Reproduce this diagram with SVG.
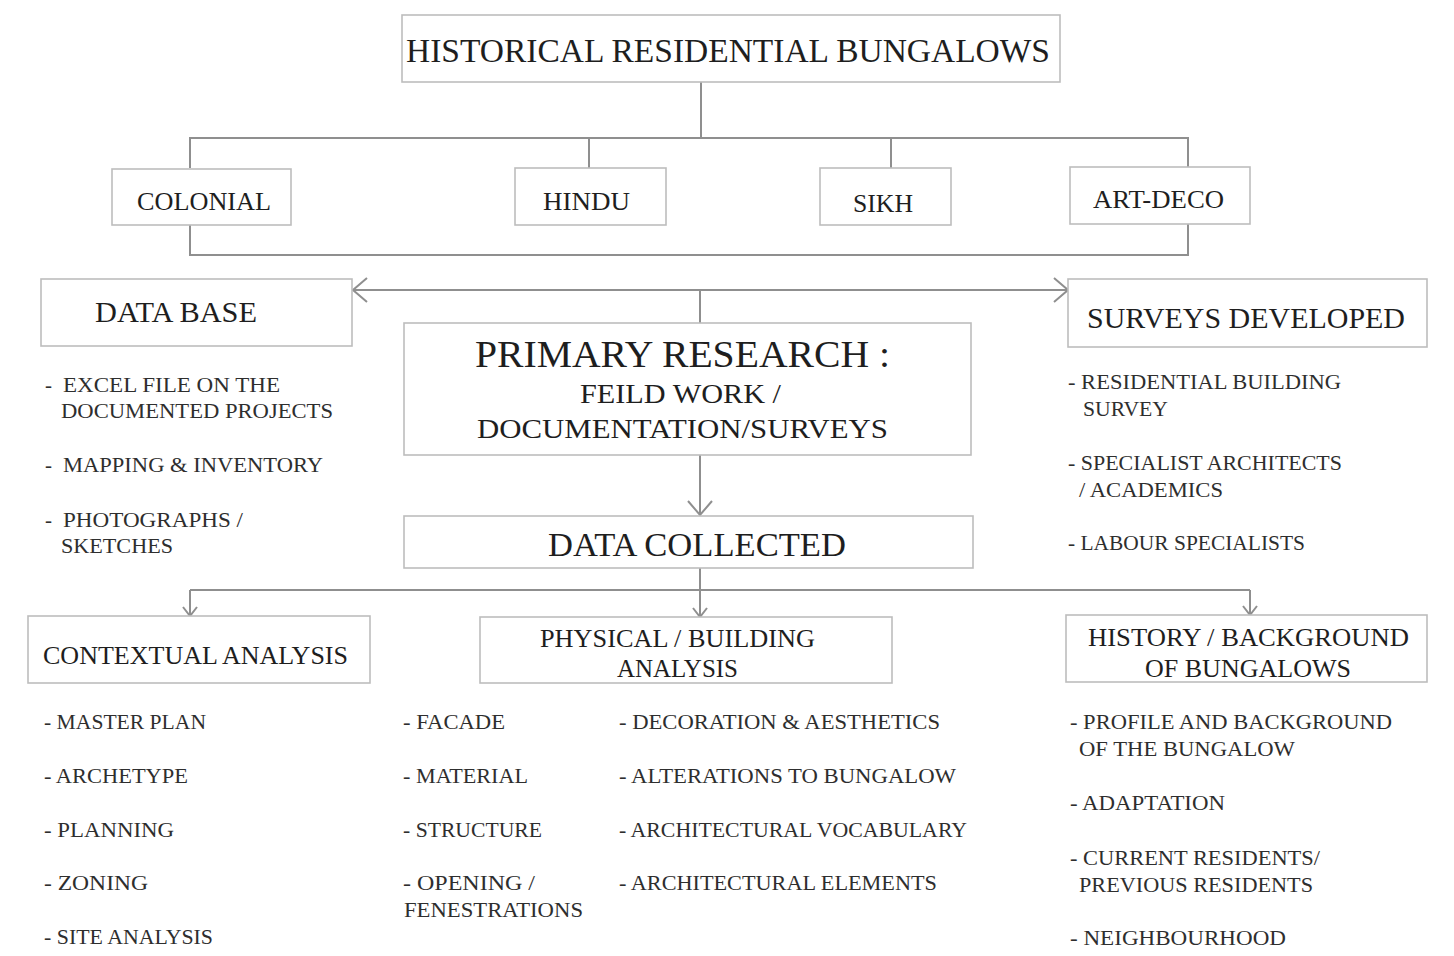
<svg xmlns="http://www.w3.org/2000/svg" width="1454" height="956" viewBox="0 0 1454 956">
<style>
.box{fill:#fff;stroke:#bdbdbd;stroke-width:1.6}
.ln{fill:none;stroke:#8f8f8f;stroke-width:2}
.t{font-family:"Liberation Serif","Times New Roman",serif;fill:#1e1e1e}
.b{font-family:"Liberation Serif","Times New Roman",serif;fill:#2e2e2e;font-size:21px}
</style>
<defs>
<marker id="big" viewBox="0 0 16 26" refX="15" refY="13" markerWidth="16" markerHeight="26" markerUnits="userSpaceOnUse" orient="auto"><path d="M1,1 L15,13 L1,25" fill="none" stroke="#8f8f8f" stroke-width="2"/></marker>
<marker id="small" viewBox="0 0 11 16" refX="10" refY="8" markerWidth="11" markerHeight="16" markerUnits="userSpaceOnUse" orient="auto"><path d="M1,1 L10,8 L1,15" fill="none" stroke="#8f8f8f" stroke-width="2"/></marker>
</defs>
<rect width="1454" height="956" fill="#fff"/>
<g id="connectors">
<path class="ln" d="M701,82 V138"/>
<path class="ln" d="M190,168 V138 H1188 V168"/>
<path class="ln" d="M589,138 V168"/>
<path class="ln" d="M891,138 V168"/>
<path class="ln" d="M190,225 V255 H1188 V224"/>
<path class="ln" d="M700,290 H353" marker-end="url(#big)"/>
<path class="ln" d="M700,290 H1068" marker-end="url(#big)"/>
<path class="ln" d="M700,290 V323"/>
<path class="ln" d="M700,455 V515" marker-end="url(#big)"/>
<path class="ln" d="M700,568 V590"/>
<path class="ln" d="M190,590 H1250"/>
<path class="ln" d="M190,590 V616" marker-end="url(#small)"/>
<path class="ln" d="M700,590 V617" marker-end="url(#small)"/>
<path class="ln" d="M1250,590 V615" marker-end="url(#small)"/>
</g>
<g id="historical">
<rect class="box" x="402" y="15" width="658" height="67"/>
<text class="t" x="406" y="62" font-size="33" textLength="644" lengthAdjust="spacingAndGlyphs">HISTORICAL RESIDENTIAL BUNGALOWS</text>
</g>
<g id="colonial">
<rect class="box" x="112" y="169" width="179" height="56"/>
<text class="t" x="137" y="210" font-size="26" textLength="134" lengthAdjust="spacingAndGlyphs">COLONIAL</text>
</g>
<g id="hindu">
<rect class="box" x="515" y="168" width="151" height="57"/>
<text class="t" x="543" y="210" font-size="26" textLength="87" lengthAdjust="spacingAndGlyphs">HINDU</text>
</g>
<g id="sikh">
<rect class="box" x="820" y="168" width="131" height="57"/>
<text class="t" x="853" y="212" font-size="26" textLength="60" lengthAdjust="spacingAndGlyphs">SIKH</text>
</g>
<g id="artdeco">
<rect class="box" x="1070" y="167" width="180" height="57"/>
<text class="t" x="1093" y="208" font-size="26" textLength="131" lengthAdjust="spacingAndGlyphs">ART-DECO</text>
</g>
<g id="database">
<rect class="box" x="41" y="279" width="311" height="67"/>
<text class="t" x="95" y="322" font-size="29" textLength="162" lengthAdjust="spacingAndGlyphs">DATA BASE</text>
<text class="b" x="45" y="392">-</text><text class="b" x="63" y="392" textLength="217" lengthAdjust="spacingAndGlyphs">EXCEL FILE ON THE</text>
<text class="b" x="61" y="418" textLength="272" lengthAdjust="spacingAndGlyphs">DOCUMENTED PROJECTS</text>
<text class="b" x="45" y="472">-</text><text class="b" x="63" y="472" textLength="260" lengthAdjust="spacingAndGlyphs">MAPPING &amp; INVENTORY</text>
<text class="b" x="45" y="527">-</text><text class="b" x="63" y="527" textLength="180" lengthAdjust="spacingAndGlyphs">PHOTOGRAPHS /</text>
<text class="b" x="61" y="553" textLength="112" lengthAdjust="spacingAndGlyphs">SKETCHES</text>
</g>
<g id="surveys">
<rect class="box" x="1068" y="279" width="359" height="68"/>
<text class="t" x="1087" y="328" font-size="30" textLength="318" lengthAdjust="spacingAndGlyphs">SURVEYS DEVELOPED</text>
<text class="b" x="1068" y="389" textLength="273" lengthAdjust="spacingAndGlyphs">- RESIDENTIAL BUILDING</text>
<text class="b" x="1083" y="416" textLength="85" lengthAdjust="spacingAndGlyphs">SURVEY</text>
<text class="b" x="1068" y="470" textLength="274" lengthAdjust="spacingAndGlyphs">- SPECIALIST ARCHITECTS</text>
<text class="b" x="1079" y="497" textLength="144" lengthAdjust="spacingAndGlyphs">/ ACADEMICS</text>
<text class="b" x="1068" y="550" textLength="237" lengthAdjust="spacingAndGlyphs">- LABOUR SPECIALISTS</text>
</g>
<g id="primary">
<rect class="box" x="404" y="323" width="567" height="132"/>
<text class="t" x="475" y="367" font-size="38" textLength="415" lengthAdjust="spacingAndGlyphs">PRIMARY RESEARCH :</text>
<text class="t" x="580" y="403" font-size="27" textLength="201" lengthAdjust="spacingAndGlyphs">FEILD WORK /</text>
<text class="t" x="477" y="438" font-size="28" textLength="411" lengthAdjust="spacingAndGlyphs">DOCUMENTATION/SURVEYS</text>
</g>
<g id="collected">
<rect class="box" x="404" y="516" width="569" height="52"/>
<text class="t" x="548" y="556" font-size="33" textLength="298" lengthAdjust="spacingAndGlyphs">DATA COLLECTED</text>
</g>
<g id="contextual">
<rect class="box" x="28" y="616" width="342" height="67"/>
<text class="t" x="43" y="664" font-size="26" textLength="305" lengthAdjust="spacingAndGlyphs">CONTEXTUAL ANALYSIS</text>
<text class="b" x="44" y="729" textLength="162" lengthAdjust="spacingAndGlyphs">- MASTER PLAN</text>
<text class="b" x="44" y="783" textLength="144" lengthAdjust="spacingAndGlyphs">- ARCHETYPE</text>
<text class="b" x="44" y="837" textLength="130" lengthAdjust="spacingAndGlyphs">- PLANNING</text>
<text class="b" x="44" y="890" textLength="104" lengthAdjust="spacingAndGlyphs">- ZONING</text>
<text class="b" x="44" y="944" textLength="169" lengthAdjust="spacingAndGlyphs">- SITE ANALYSIS</text>
</g>
<g id="physical">
<rect class="box" x="480" y="617" width="412" height="66"/>
<text class="t" x="540" y="647" font-size="26" textLength="275" lengthAdjust="spacingAndGlyphs">PHYSICAL / BUILDING</text>
<text class="t" x="617" y="677" font-size="26" textLength="121" lengthAdjust="spacingAndGlyphs">ANALYSIS</text>
<text class="b" x="403" y="729" textLength="102" lengthAdjust="spacingAndGlyphs">- FACADE</text>
<text class="b" x="403" y="783" textLength="125" lengthAdjust="spacingAndGlyphs">- MATERIAL</text>
<text class="b" x="403" y="837" textLength="139" lengthAdjust="spacingAndGlyphs">- STRUCTURE</text>
<text class="b" x="403" y="890" textLength="132" lengthAdjust="spacingAndGlyphs">- OPENING /</text>
<text class="b" x="404" y="917" textLength="179" lengthAdjust="spacingAndGlyphs">FENESTRATIONS</text>
<text class="b" x="619" y="729" textLength="321" lengthAdjust="spacingAndGlyphs">- DECORATION &amp; AESTHETICS</text>
<text class="b" x="619" y="783" textLength="337" lengthAdjust="spacingAndGlyphs">- ALTERATIONS TO BUNGALOW</text>
<text class="b" x="619" y="837" textLength="348" lengthAdjust="spacingAndGlyphs">- ARCHITECTURAL VOCABULARY</text>
<text class="b" x="619" y="890" textLength="318" lengthAdjust="spacingAndGlyphs">- ARCHITECTURAL ELEMENTS</text>
</g>
<g id="history">
<rect class="box" x="1066" y="615" width="361" height="67"/>
<text class="t" x="1088" y="646" font-size="26" textLength="321" lengthAdjust="spacingAndGlyphs">HISTORY / BACKGROUND</text>
<text class="t" x="1145" y="677" font-size="26" textLength="206" lengthAdjust="spacingAndGlyphs">OF BUNGALOWS</text>
<text class="b" x="1070" y="729" textLength="322" lengthAdjust="spacingAndGlyphs">- PROFILE AND BACKGROUND</text>
<text class="b" x="1079" y="756" textLength="216" lengthAdjust="spacingAndGlyphs">OF THE BUNGALOW</text>
<text class="b" x="1070" y="810" textLength="155" lengthAdjust="spacingAndGlyphs">- ADAPTATION</text>
<text class="b" x="1070" y="865" textLength="250" lengthAdjust="spacingAndGlyphs">- CURRENT RESIDENTS/</text>
<text class="b" x="1079" y="892" textLength="234" lengthAdjust="spacingAndGlyphs">PREVIOUS RESIDENTS</text>
<text class="b" x="1070" y="945" textLength="216" lengthAdjust="spacingAndGlyphs">- NEIGHBOURHOOD</text>
</g>
</svg>
